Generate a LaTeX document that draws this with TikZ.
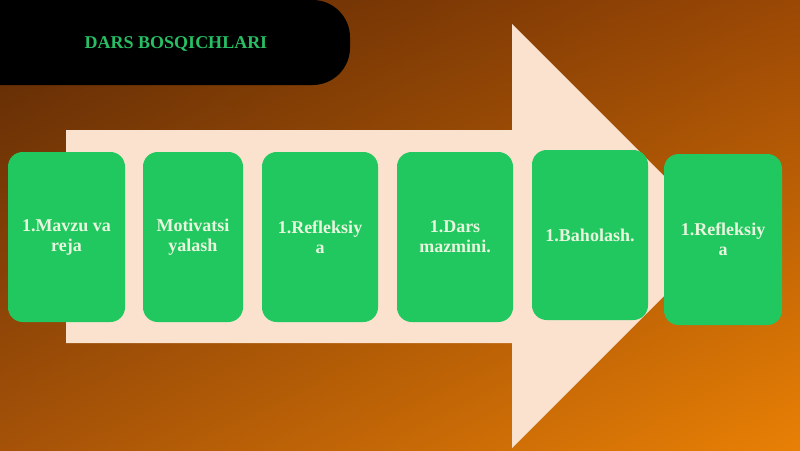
\documentclass[tikz,border=0pt]{standalone}
\usepackage{fontspec}
\setmainfont{Liberation Serif}
\usetikzlibrary{shadings}
\definecolor{bgUL}{RGB}{90,40,5}
\definecolor{bgUR}{RGB}{155,72,5}
\definecolor{bgLL}{RGB}{165,82,8}
\definecolor{bgLR}{RGB}{232,128,5}
\definecolor{peach}{RGB}{250,226,206}
\definecolor{boxgreen}{RGB}{32,200,95}
\definecolor{boxtext}{RGB}{232,246,222}
\definecolor{titlegreen}{RGB}{40,190,100}
\tikzset{
  stagebox/.style={fill=boxgreen, rounded corners=11pt, text=boxtext, align=center,
    inner sep=0pt, font=\bfseries\fontsize{13.5}{15}\selectfont},
  banner/.style={fill=black, rounded corners=28pt},
}
\begin{document}
\begin{tikzpicture}[x=0.75pt,y=-0.75pt]
\useasboundingbox (0,0) rectangle (800,450);
\clip (0,0) rectangle (800,450);
% background
\shade[upper left=bgUL, upper right=bgUR, lower left=bgLL, lower right=bgLR] (0,0) rectangle (800,450);
% title banner
\fill[banner] (-60,0) rectangle (350,85);
\node[text=titlegreen, font=\bfseries\fontsize{13.5}{15}\selectfont] (title) at (176,44) {DARS BOSQICHLARI};
% big arrow
\fill[peach] (66,130) -- (512,130) -- (512,24) -- (724,236) -- (512,448) -- (512,343) -- (66,343) -- cycle;
% stages
\node[stagebox, minimum width=87.75pt, minimum height=127.5pt] (s1) at (66.5,237) {1.Mavzu va\\reja};
\node[stagebox, minimum width=75pt, minimum height=127.5pt] (s2) at (193,237) {Motivatsi\\yalash};
\node[stagebox, minimum width=87pt, minimum height=127.5pt] (s3) at (320,237) {1.Refleksiy\\a};
\node[stagebox, minimum width=87pt, minimum height=127.5pt] (s4) at (455,237) {1.Dars\\mazmini.};
\node[stagebox, minimum width=87pt, minimum height=127.5pt] (s5) at (590,235) {1.Baholash.};
\node[stagebox, minimum width=88.5pt, minimum height=128.25pt] (s6) at (723,239.5) {1.Refleksiy\\a};
\end{tikzpicture}
\end{document}
